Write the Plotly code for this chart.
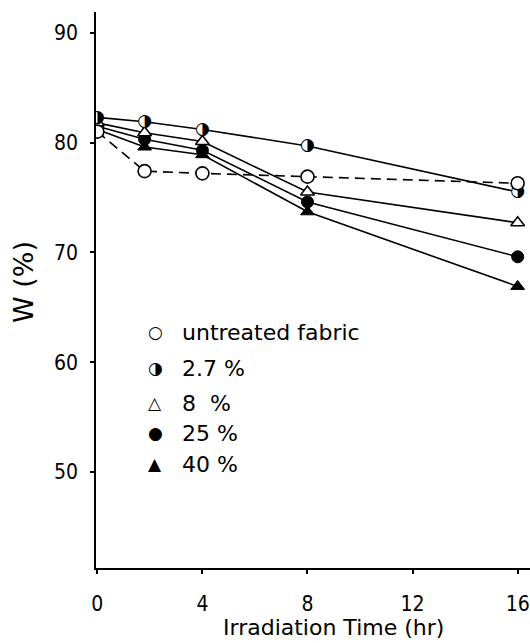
import plotly.graph_objects as go

# ---- data ----
time_hr = [0, 1.8, 4, 8, 16]
untreated = [81.0, 77.4, 77.2, 76.9, 76.3]
conc_2_7 = [82.3, 81.9, 81.2, 79.7, 75.5]
conc_8 = [81.8, 80.9, 80.1, 75.5, 72.7]
conc_25 = [81.5, 80.3, 79.3, 74.6, 69.6]
conc_40 = [81.2, 79.6, 78.9, 73.7, 66.9]

x_ticks = [0, 4, 8, 12, 16]
y_ticks = [50, 60, 70, 80, 90]

legend_labels = ["untreated fabric", "2.7 %", "8  %", "25 %", "40 %"]
legend_glyphs = ["○", "◑", "△", "●", "▲"]

# ---- geometry ----
W, H = 530, 643
ML, MR, MT, MB = 96, 0, 12, 75
PW, PH = W - ML - MR, H - MT - MB


def px(x):
    return (x - ML) / PW


def py(y):
    return (H - MB - y) / PH


LINE = dict(color="black", width=1.6)
fig = go.Figure()

fig.add_trace(go.Scatter(
    x=time_hr, y=conc_40, mode="lines+markers", line=LINE,
    marker=dict(symbol="triangle-up", size=12, color="black",
                line=dict(color="black", width=1)),
    showlegend=False))
fig.add_trace(go.Scatter(
    x=time_hr, y=conc_25, mode="lines+markers", line=LINE,
    marker=dict(symbol="circle", size=12, color="black",
                line=dict(color="black", width=1)),
    showlegend=False))
fig.add_trace(go.Scatter(
    x=time_hr, y=conc_8, mode="lines+markers", line=LINE,
    marker=dict(symbol="triangle-up", size=12, color="white",
                line=dict(color="black", width=1.6)),
    showlegend=False))
fig.add_trace(go.Scatter(
    x=time_hr, y=conc_2_7, mode="lines+markers+text", line=LINE,
    marker=dict(symbol="circle", size=12, color="white",
                line=dict(color="white", width=0)),
    text=["◑"] * len(time_hr), textposition="middle center",
    textfont=dict(family="DejaVu Sans", size=17, color="black"),
    showlegend=False))
fig.add_trace(go.Scatter(
    x=time_hr, y=untreated, mode="lines+markers",
    line=dict(color="black", width=1.6, dash="10px,6px"),
    marker=dict(symbol="circle", size=13, color="white",
                line=dict(color="black", width=1.6)),
    showlegend=False))

annotations = []
leg_y = [332, 368, 403, 433, 464]
for g, lab, yy in zip(legend_glyphs, legend_labels, leg_y):
    annotations.append(dict(
        x=px(155), y=py(yy), xref="paper", yref="paper", text=g,
        showarrow=False, xanchor="center", yanchor="middle",
        font=dict(family="DejaVu Sans", size=17, color="black")))
    annotations.append(dict(
        x=px(180), y=py(yy), xref="paper", yref="paper", text=lab,
        showarrow=False, xanchor="left", yanchor="middle",
        font=dict(family="DejaVu Sans", size=22, color="black")))

annotations.append(dict(
    x=px(333), y=py(627), xref="paper", yref="paper",
    text="Irradiation Time (hr)", showarrow=False,
    xanchor="center", yanchor="middle",
    font=dict(family="DejaVu Sans", size=22, color="black")))
annotations.append(dict(
    x=px(23), y=py(282), xref="paper", yref="paper",
    text="W (%)", showarrow=False, textangle=-90,
    xanchor="center", yanchor="middle",
    font=dict(family="DejaVu Sans", size=27, color="black")))

TICKFONT = dict(family="Liberation Sans Narrow, DejaVu Sans Condensed, Roboto, Liberation Sans",
                size=21, color="black")
fig.update_layout(
    width=W, height=H,
    margin=dict(l=ML, r=MR, t=MT, b=MB, pad=0),
    paper_bgcolor="white", plot_bgcolor="white",
    showlegend=False,
    annotations=annotations,
    xaxis=dict(range=[-0.05, 16.47], tickvals=x_ticks,
               ticktext=[str(v) for v in x_ticks],
               showgrid=False, zeroline=False, showline=True,
               linecolor="black", linewidth=1.5, ticks="outside",
               ticklen=4, tickcolor="black", tickwidth=1.5,
               tickfont=TICKFONT, ticklabelstandoff=12),
    yaxis=dict(range=[41.25, 91.9], tickvals=y_ticks,
               ticktext=[str(v) for v in y_ticks],
               showgrid=False, zeroline=False, showline=True,
               linecolor="black", linewidth=1.5, ticks="outside",
               ticklen=4, tickcolor="black", tickwidth=1.5,
               tickfont=TICKFONT, ticklabelstandoff=8),
)

fig.write_html("out.html")
